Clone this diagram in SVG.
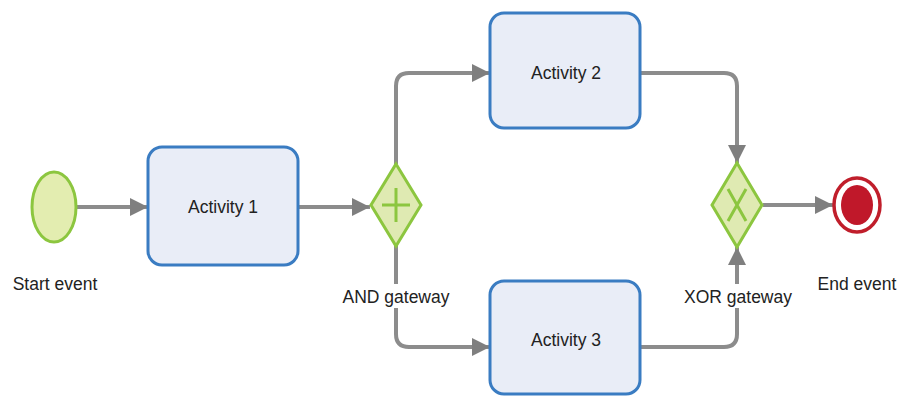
<svg xmlns="http://www.w3.org/2000/svg" width="900" height="396" viewBox="0 0 900 396">
<defs>
<marker id="arr" markerUnits="userSpaceOnUse" markerWidth="20" markerHeight="18" refX="18" refY="9" orient="auto">
<path d="M0,0 L18,9 L0,18 Z" fill="#7f7f7f"/>
</marker>
<style>
.conn{fill:none;stroke:#8c8c8c;stroke-width:4;marker-end:url(#arr)}
.task{fill:#e9edf7;stroke:#3a7cc2;stroke-width:3}
.gw{fill:#dfeab2;stroke:#8cc63f;stroke-width:3}
.gwm{fill:none;stroke:#8cc63f;stroke-width:3}
.lbl{font-family:"Liberation Sans",Arial,sans-serif;font-size:17.5px;fill:#222;text-anchor:middle}
.bg{fill:#ffffff}
</style>
</defs>
<rect width="900" height="396" fill="#ffffff"/>
<g id="connectors">
<path class="conn" d="M77,207 H148"/>
<path class="conn" d="M298,207 H370"/>
<path class="conn" d="M396,164 V86 Q396,73 409,73 H490"/>
<path class="conn" d="M396,246 V334 Q396,347 409,347 H490"/>
<path class="conn" d="M640,73 H724 Q737,73 737,86 V163"/>
<path class="conn" d="M640,347 H724 Q737,347 737,334 V247"/>
<path class="conn" d="M763,205 H833"/>
</g>
<g id="start-event">
<ellipse cx="54" cy="207" rx="22" ry="35" fill="#e3edb0" stroke="#8cc63f" stroke-width="3"/>
<text class="lbl" x="55" y="290">Start event</text>
</g>
<g id="activity-1">
<rect class="task" x="148" y="147" width="150" height="118" rx="14"/>
<text class="lbl" x="223" y="213">Activity 1</text>
</g>
<g id="and-gateway">
<path class="gw" d="M396,164 L421,205 L396,246 L371,205 Z"/>
<path class="gwm" d="M396,188 V222 M382,205 H410"/>
<rect class="bg" x="340" y="284" width="112" height="24"/>
<text class="lbl" x="396" y="303">AND gateway</text>
</g>
<g id="activity-2">
<rect class="task" x="490" y="13" width="150" height="115" rx="14"/>
<text class="lbl" x="566" y="79">Activity 2</text>
</g>
<g id="activity-3">
<rect class="task" x="490" y="281" width="150" height="113" rx="14"/>
<text class="lbl" x="566" y="346">Activity 3</text>
</g>
<g id="xor-gateway">
<path class="gw" d="M737,163 L762,205 L737,247 L712,205 Z"/>
<path class="gwm" d="M728,189 L746,221 M746,189 L728,221"/>
<rect class="bg" x="683" y="284" width="110" height="24"/>
<text class="lbl" x="738" y="303">XOR gateway</text>
</g>
<g id="end-event">
<ellipse cx="857" cy="205" rx="23" ry="27" fill="#ffffff" stroke="#c01e2b" stroke-width="3.5"/>
<ellipse cx="857" cy="205" rx="16" ry="20" fill="#c0182a"/>
<text class="lbl" x="857" y="290">End event</text>
</g>
</svg>
